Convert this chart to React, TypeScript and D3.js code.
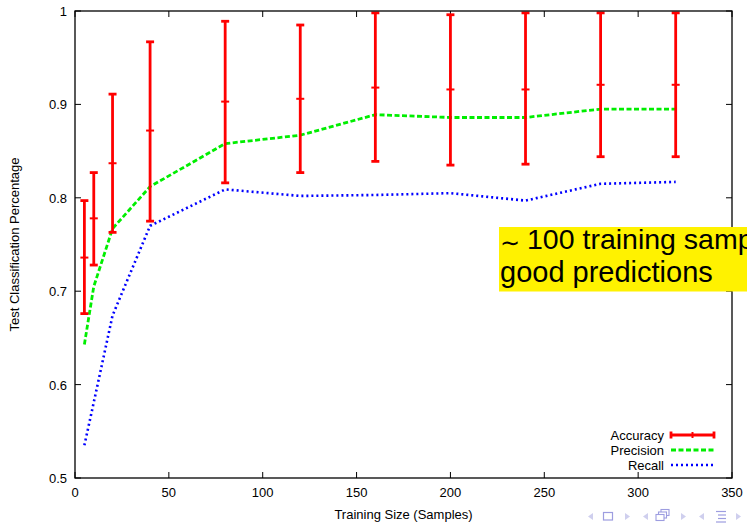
import React from "react";
import * as d3 from "d3";

const sizes = [5, 10, 20, 40, 80, 120, 160, 200, 240, 280, 320];
const accMean = [0.736, 0.778, 0.837, 0.872, 0.903, 0.906, 0.918, 0.916, 0.916, 0.921, 0.921];
const accLow = [0.676, 0.728, 0.763, 0.775, 0.816, 0.827, 0.839, 0.835, 0.836, 0.844, 0.844];
const accHigh = [0.797, 0.827, 0.911, 0.967, 0.989, 0.985, 0.998, 0.996, 0.998, 0.998, 0.998];
const precision = [0.643, 0.705, 0.767, 0.812, 0.858, 0.867, 0.889, 0.886, 0.886, 0.895, 0.895];
const recall = [0.535, 0.581, 0.674, 0.770, 0.809, 0.802, 0.803, 0.805, 0.797, 0.815, 0.817];
const xTicks = [0, 50, 100, 150, 200, 250, 300, 350];
const yTicks = [0.5, 0.6, 0.7, 0.8, 0.9, 1];
const legendItems = ["Accuracy", "Precision", "Recall"];

const W = 747, H = 523;
const L = 75, R = 732, T = 11, B = 478;
const font = "'Liberation Sans', Arial, Helvetica, sans-serif";

function Tri({ cx, cy, dir }: { cx: number; cy: number; dir: number }) {
  const p = dir < 0
    ? `${cx - 3},${cy} ${cx + 2},${cy - 3.5} ${cx + 2},${cy + 3.5}`
    : `${cx + 3},${cy} ${cx - 2},${cy - 3.5} ${cx - 2},${cy + 3.5}`;
  return <polygon points={p} fill="#cfcfee" />;
}

export default function App() {
  const x = d3.scaleLinear().domain([0, 350]).range([L, R]);
  const y = d3.scaleLinear().domain([0.5, 1]).range([B, T]);
  const line = d3.line<number>().x((_, i) => x(sizes[i])).y((d) => y(d));
  const tl = 6;
  const cap = 4;
  const ny = 516.5;
  const navC = "#9d9de0";

  return (
    <svg width={W} height={H} style={{ position: "absolute", left: 0, top: 0, background: "#fff" }} fontFamily={font}>
      <rect x={0} y={0} width={W} height={H} fill="#fff" />
      {xTicks.map((t) => (
        <g key={"xt" + t}>
          <line x1={x(t)} x2={x(t)} y1={B} y2={B - tl} stroke="#000" strokeWidth={1} />
          <line x1={x(t)} x2={x(t)} y1={T} y2={T + tl} stroke="#000" strokeWidth={1} />
          <text x={x(t)} y={497} fontSize={13} textAnchor="middle" fill="#000">{t}</text>
        </g>
      ))}
      {yTicks.map((t) => (
        <g key={"yt" + t}>
          <line x1={L} x2={L + tl} y1={y(t)} y2={y(t)} stroke="#000" strokeWidth={1} />
          <line x1={R} x2={R - tl} y1={y(t)} y2={y(t)} stroke="#000" strokeWidth={1} />
          <text x={67} y={y(t) + 5} fontSize={13} textAnchor="end" fill="#000">{t === 1 ? "1" : t.toFixed(1)}</text>
        </g>
      ))}
      <path d={line(recall) || ""} fill="none" stroke="#0000ff" strokeWidth={2.6} strokeDasharray="2,3" />
      <path d={line(precision) || ""} fill="none" stroke="#00ee00" strokeWidth={2.8} strokeDasharray="5,2.5" />
      {sizes.map((s, i) => (
        <g key={"e" + s} stroke="#ff0000" strokeWidth={2.8}>
          <line x1={x(s)} x2={x(s)} y1={y(accLow[i])} y2={y(accHigh[i])} />
          <line x1={x(s) - cap} x2={x(s) + cap} y1={y(accLow[i])} y2={y(accLow[i])} />
          <line x1={x(s) - cap} x2={x(s) + cap} y1={y(accHigh[i])} y2={y(accHigh[i])} />
          <line x1={x(s) - cap} x2={x(s) + cap} y1={y(accMean[i])} y2={y(accMean[i])} strokeWidth={2} />
        </g>
      ))}
      <rect x={L} y={T} width={R - L} height={B - T} fill="none" stroke="#000" strokeWidth={1.3} />
      {legendItems.map((name, i) => {
        const ly = 435 + i * 15;
        return (
          <g key={name}>
            <text x={664} y={ly + 4.5} fontSize={13} textAnchor="end" fill="#000">{name}</text>
            {i === 0 && (
              <g stroke="#ff0000" strokeWidth={2.8}>
                <line x1={671} x2={714} y1={ly} y2={ly} />
                <line x1={671} x2={671} y1={ly - 3.5} y2={ly + 3.5} />
                <line x1={714} x2={714} y1={ly - 3.5} y2={ly + 3.5} />
                <line x1={692.5} x2={692.5} y1={ly - 3} y2={ly + 3} strokeWidth={2} />
              </g>
            )}
            {i === 1 && <line x1={671} x2={714} y1={ly} y2={ly} stroke="#00ee00" strokeWidth={2.8} strokeDasharray="5,2.5" />}
            {i === 2 && <line x1={671} x2={714} y1={ly} y2={ly} stroke="#0000ff" strokeWidth={2.6} strokeDasharray="2,3" />}
          </g>
        );
      })}
      <text x={(L + R) / 2} y={519} fontSize={13} textAnchor="middle" fill="#000">Training Size (Samples)</text>
      <text transform={`translate(19,${(T + B) / 2}) rotate(-90)`} fontSize={13} textAnchor="middle" fill="#000">Test Classification Percentage</text>
      <rect x={499} y={227} width={260} height={64.5} fill="#fff200" />
      <text x={500} y={251} fontSize={24} fill="#000" fontFamily="'DejaVu Sans', sans-serif">∼</text>
      <text x={527} y={249} fontSize={28.5} fill="#000">100 training samples</text>
      <text x={500} y={282} fontSize={29} fill="#000">good predictions</text>
      <g>
        <Tri cx={591} cy={ny} dir={-1} />
        <rect x={603.5} y={ny - 4} width={9} height={7.5} fill="none" stroke={navC} strokeWidth={1.2} />
        <Tri cx={627} cy={ny} dir={1} />
        <Tri cx={646} cy={ny} dir={-1} />
        <rect x={661} y={ny - 7} width={8} height={6} fill="#fff" stroke={navC} strokeWidth={1.1} />
        <rect x={658.5} y={ny - 4.5} width={8} height={6} fill="#fff" stroke={navC} strokeWidth={1.1} />
        <rect x={656} y={ny - 2} width={8} height={6} fill="#fff" stroke={navC} strokeWidth={1.1} />
        <Tri cx={683} cy={ny} dir={1} />
        <Tri cx={702} cy={ny} dir={-1} />
        <line x1={716} x2={726} y1={ny - 5} y2={ny - 5} stroke={navC} strokeWidth={1.2} />
        <line x1={718} x2={726} y1={ny - 1.5} y2={ny - 1.5} stroke={navC} strokeWidth={1.2} />
        <line x1={718} x2={726} y1={ny + 2} y2={ny + 2} stroke={navC} strokeWidth={1.2} />
        <line x1={716} x2={726} y1={ny + 5.5} y2={ny + 5.5} stroke={navC} strokeWidth={1.2} />
        <Tri cx={738} cy={ny} dir={1} />
      </g>
    </svg>
  );
}
